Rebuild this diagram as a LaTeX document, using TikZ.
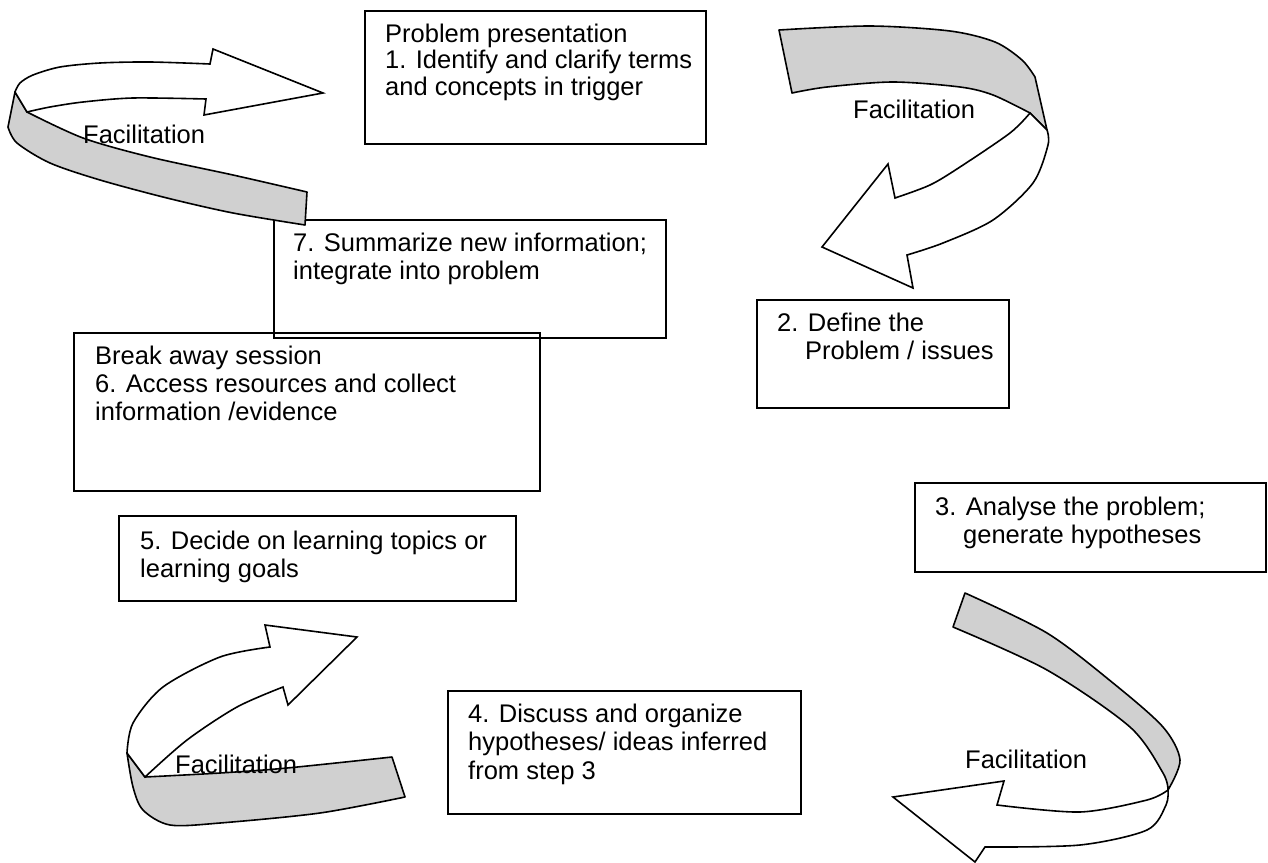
\documentclass[tikz,border=0pt]{standalone}
\usepackage{fontspec}
\setmainfont{Liberation Sans}
\definecolor{ribbon}{RGB}{208,208,208}
\begin{document}
\begin{tikzpicture}[x=1pt,y=-1pt,
  every node/.style={font=\fontsize{25.5}{28.5}\selectfont},
  box/.style={draw=black,line width=1.6pt,inner sep=0pt,anchor=north west},
  txt/.style={anchor=base west,inner sep=0pt},
  band/.style={draw=black,fill=ribbon,line width=1.6pt,line join=round},
  head/.style={draw=black,fill=white,line width=1.6pt,line join=miter}]
\useasboundingbox (0,0) rectangle (1268,862);
\fill[white] (0,0) rectangle (1268,862);

% ---------- boxes ----------
\node[box,minimum width=341pt,minimum height=133pt] (b1) at (364,10) {};
\node[txt] (t1a) at (385,42) {Problem presentation};
\node[txt] (t1b) at (385,68.5) {1. Identify and clarify terms};
\node[txt] (t1c) at (385,95) {and concepts in trigger};

\node[box,minimum width=392pt,minimum height=118pt] (b7) at (273,219) {};
\node[txt] (t7a) at (293,251) {7. Summarize new information;};
\node[txt] (t7b) at (293,279) {integrate into problem};

\node[box,minimum width=252pt,minimum height=108pt] (b2) at (756,299) {};
\node[txt] (t2a) at (777,331) {2. Define the};
\node[txt] (t2b) at (805,359) {Problem / issues};

\node[box,minimum width=466pt,minimum height=158pt] (b6) at (73,332) {};
\node[txt] (t6a) at (95,364) {Break away session};
\node[txt] (t6b) at (95,392) {6. Access resources and collect};
\node[txt] (t6c) at (95,420) {information /evidence};

\node[box,minimum width=351pt,minimum height=89pt] (b3) at (914,482) {};
\node[txt] (t3a) at (935,515) {3. Analyse the problem;};
\node[txt] (t3b) at (963,543) {generate hypotheses};

\node[box,minimum width=397pt,minimum height=85pt] (b5) at (118,515) {};
\node[txt] (t5a) at (140,549) {5. Decide on learning topics or};
\node[txt] (t5b) at (140,577) {learning goals};

\node[box,minimum width=353pt,minimum height=123pt] (b4) at (447,690) {};
\node[txt] (t4a) at (468,722) {4. Discuss and organize};
\node[txt] (t4b) at (468,750.5) {hypotheses/ ideas inferred};
\node[txt] (t4c) at (468,779) {from step 3};

% ---------- top-left ribbon arrow (7 -> 1) ----------
\draw[band] (15,92) -- (8,127)
  -- plot[smooth] coordinates {(8,127) (17,143) (50,163) (100,180) (167,198) (233,213) (305,225)}
  -- (307,192)
  -- plot[smooth] coordinates {(307,192) (233,175) (150,157) (83,138) (27,112)}
  -- cycle;
\draw[head] (15,92)
  -- plot[smooth] coordinates {(15,92) (20,83) (33,75) (60,67) (100,63) (150,62) (210,64)}
  -- (213,49) -- (323,93) -- (204,115) -- (206,99)
  -- plot[smooth] coordinates {(206,99) (133,98) (83,102) (50,107) (27,112)}
  -- cycle;
\node[txt] (f1) at (83,143) {Facilitation};

% ---------- top-right ribbon arrow (1 -> 2) ----------
\draw[band] (779,30)
  -- plot[smooth] coordinates {(779,30) (870,26) (950,31) (995,42) (1022,60) (1035,77)}
  -- (1047,130) -- (1030,113)
  -- plot[smooth] coordinates {(1030,113) (993,95) (960,87) (893,82) (827,87) (792,93)}
  -- cycle;
\draw[head] (1047,130)
  -- plot[smooth] coordinates {(1047,130) (1048,145) (1033,183) (993,220) (943,243) (907,255)}
  -- (913,288) -- (822,247) -- (888,164) -- (895,198)
  -- plot[smooth] coordinates {(895,198) (930,185) (960,167) (1010,133) (1030,113)}
  -- cycle;
\node[txt] (f2) at (853,118) {Facilitation};

% ---------- bottom-right ribbon arrow (3 -> 4) ----------
\draw[band] (965,593)
  -- plot[smooth] coordinates {(965,593) (1047,633) (1113,683) (1163,727) (1180,760) (1168,790)}
  -- plot[smooth] coordinates {(1168,790) (1163,773) (1130,727) (1047,670) (953,627)}
  -- cycle;
\draw[head] (1168,790)
  -- plot[smooth] coordinates {(1168,790) (1147,800) (1080,812) (997,805)}
  -- (1004,781) -- (893,797) -- (975,862) -- (985,847)
  -- plot[smooth] coordinates {(985,847) (1080,845) (1147,830) (1166,805) (1168,790)}
  -- cycle;
\node[txt] (f3) at (965,768) {Facilitation};

% ---------- bottom-left ribbon arrow (4 -> 5) ----------
\draw[band] (392,757)
  -- plot[smooth] coordinates {(392,757) (287,768) (220,773) (145,777)}
  -- (127,753)
  -- plot[smooth] coordinates {(127,753) (133,787) (143,810) (170,825) (220,823) (320,813) (405,797)}
  -- cycle;
\draw[head] (127,753)
  -- plot[smooth] coordinates {(127,753) (133,723) (163,687) (220,657) (270,647)}
  -- (265,625) -- (357,637) -- (288,705) -- (283,687)
  -- plot[smooth] coordinates {(283,687) (237,707) (187,740) (145,777)}
  -- cycle;
\node[txt] (f4) at (175,773) {Facilitation};
\end{tikzpicture}
\end{document}
